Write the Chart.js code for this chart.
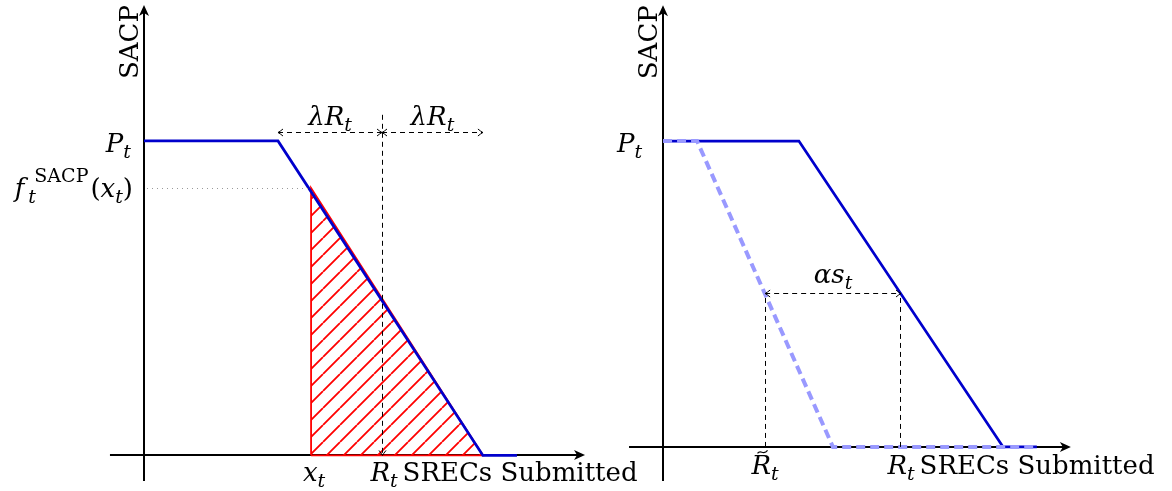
<!DOCTYPE html>
<html lang="en">
<head>
<meta charset="UTF-8">
<title>SACP schedule</title>
<script src="https://cdn.jsdelivr.net/npm/chart.js"></script>
<style>
  body { margin: 0; background: #fff; }
  canvas { position: absolute; top: 0; }
  #left { left: 0; }
  #right { left: 600px; }
</style>
</head>
<body>
<canvas id="left" width="650" height="491"></canvas>
<canvas id="right" width="572" height="491"></canvas>
<script>
// left panel: SACP schedule (P_t = 1, R_t = 1) and the hatched area from x_t
const curveX = [0, 0.563, 1.424, 1.567];
const curveY = [1, 1, 0, 0];
const hatchX = [0.702, 0.702, 1.424, 0.702];
const hatchY = [0, 0.85, 0, 0];
const xt = 0.702, fxt = 0.85, rt = 1;
const lambdaLo = 0.563, lambdaHi = 1.424, lambdaArrowY = 1.026, rtLineTop = 1.083;

// right panel: schedule and the one shifted left by alpha*s_t
const rCurveX = [0, 0.571, 1.429, 1.571];
const rCurveY = [1, 1, 0, 0];
const shiftX = [0, 0.143, 0.714, 1.571];
const shiftY = [1, 1, 0, 0];
const rTilde = 0.429, crossY = 0.5;

const BLUE = '#0000cc', LIGHT = '#9999ff', RED = '#ff0000';
const SERIF = '"DejaVu Serif", "Liberation Serif", serif';
const MAIN = 26, SMALL = 19;

function pts(xs, ys) { return xs.map((x, i) => ({ x, y: ys[i] })); }

function fontOf(kind) {
  const small = kind === 'sub' || kind === 'sup';
  const it = kind === 'i' || kind === 'sub' || kind === 'f';
  return (it ? 'italic ' : '') + (small ? SMALL : MAIN) + 'px ' + SERIF;
}

// parts: [text, kind] with kind 'i', 'r', 'f' (italic, wide overhang), 'sub' (italic) or 'sup' (roman, stacked on a sub)
function mathText(ctx, parts, x, y, align) {
  const items = parts.map(([t, k]) => {
    ctx.font = fontOf(k);
    const extra = k === 'f' ? 10 : 0;
    return { t, k, w: ctx.measureText(t).width + extra, dy: k === 'sub' ? 6 : k === 'sup' ? -15 : 0 };
  });
  let adv = 0;
  const xs = [];
  items.forEach((it, i) => {
    if (it.k === 'sup' && i > 0 && items[i - 1].k === 'sub') {
      xs.push(xs[i - 1]);
      adv = xs[i - 1] + Math.max(items[i - 1].w, it.w) + 2;
    } else {
      xs.push(adv);
      adv += it.w;
    }
  });
  const x0 = align === 'right' ? x - adv : align === 'center' ? x - adv / 2 : x;
  ctx.save();
  ctx.fillStyle = '#000';
  ctx.textAlign = 'left';
  ctx.textBaseline = 'alphabetic';
  items.forEach((it, i) => {
    ctx.font = fontOf(it.k);
    const sx = it.k === 'sub' && i > 0 && items[i - 1].k === 'f' ? -6 : 0;
    ctx.fillText(it.t, x0 + xs[i] + sx, y + it.dy);
  });
  ctx.restore();
  return { left: x0, right: x0 + adv };
}

// crisp thin lines: snap odd widths to half pixels
function snap(v, width) { return width % 2 === 1 ? Math.round(v - 0.5) + 0.5 : Math.round(v); }

function line(ctx, x1, y1, x2, y2, width, dash, color) {
  if (x1 === x2) { x1 = x2 = snap(x1, width); }
  if (y1 === y2) { y1 = y2 = snap(y1, width); }
  ctx.save();
  ctx.strokeStyle = color || '#000';
  ctx.lineWidth = width;
  ctx.setLineDash(dash || []);
  ctx.beginPath();
  ctx.moveTo(x1, y1);
  ctx.lineTo(x2, y2);
  ctx.stroke();
  ctx.restore();
}

// filled stealth head for the axes
function stealth(ctx, x, y, ang) {
  ctx.save();
  ctx.translate(x, y);
  ctx.rotate(ang);
  ctx.fillStyle = '#000';
  ctx.beginPath();
  ctx.moveTo(0, 0);
  ctx.lineTo(-11, -5);
  ctx.lineTo(-8, 0);
  ctx.lineTo(-11, 5);
  ctx.closePath();
  ctx.fill();
  ctx.restore();
}

// thin open head for the dashed dimension lines
function tip(ctx, x, y, ang) {
  ctx.save();
  ctx.translate(x, y);
  ctx.rotate(ang);
  ctx.strokeStyle = '#000';
  ctx.lineWidth = 1;
  ctx.beginPath();
  ctx.moveTo(-5, -3.5);
  ctx.quadraticCurveTo(-2, -1, 0, 0);
  ctx.quadraticCurveTo(-2, 1, -5, 3.5);
  ctx.stroke();
  ctx.restore();
}

function dimArrow(ctx, x1, x2, y) {
  const sy = snap(y, 1);
  line(ctx, x1, sy, x2, sy, 1, [5, 4]);
  tip(ctx, x1, sy, Math.PI);
  tip(ctx, x2, sy, 0);
}

function axes(c, xFrom, xTo, yFrom, yTo) {
  const ctx = c.ctx, X = v => c.scales.x.getPixelForValue(v), Y = v => c.scales.y.getPixelForValue(v);
  const ox = Math.round(X(0)), oy = Math.round(Y(0));
  line(ctx, X(xFrom), oy, X(xTo) - 6, oy, 2);
  line(ctx, ox, Y(yFrom), ox, Y(yTo) + 6, 2);
  stealth(ctx, X(xTo), oy, 0);
  stealth(ctx, ox, Y(yTo), -Math.PI / 2);
  ctx.save();
  ctx.font = MAIN + 'px ' + SERIF;
  ctx.fillStyle = '#000';
  ctx.textAlign = 'center';
  ctx.translate(ox - 6, Y(yTo) + 37);
  ctx.rotate(-Math.PI / 2);
  ctx.fillText('SACP', 0, 0);
  ctx.restore();
}

function xLabel(ctx, rx, y) {
  const r = mathText(ctx, [['R', 'i'], ['t', 'sub']], rx, y, 'center');
  ctx.save();
  ctx.font = MAIN + 'px ' + SERIF;
  ctx.fillStyle = '#000';
  ctx.fillText('SRECs Submitted', r.right + 5, y);
  ctx.restore();
}

function lineSet(xs, ys, color, width, dash) {
  return {
    data: pts(xs, ys), borderColor: color, borderWidth: width, borderDash: dash || [],
    pointRadius: 0, tension: 0, fill: false, clip: false, borderJoinStyle: 'miter'
  };
}

function panel(id, xr, yr, datasets, under, over) {
  return new Chart(document.getElementById(id), {
    type: 'line',
    data: { datasets },
    options: {
      responsive: false, animation: false, events: [],
      layout: { padding: 0 },
      plugins: { legend: { display: false }, tooltip: { enabled: false } },
      scales: {
        x: { type: 'linear', display: false, min: xr[0], max: xr[1] },
        y: { type: 'linear', display: false, min: yr[0], max: yr[1] }
      }
    },
    plugins: [{ id: 'sketch', beforeDatasetsDraw: under, afterDatasetsDraw: over }]
  });
}

// hatch pattern, north east lines
const TILE = 17;
const tile = document.createElement('canvas');
tile.width = tile.height = TILE;
const tg = tile.getContext('2d');
tg.strokeStyle = RED;
tg.lineWidth = 1.8;
tg.beginPath();
for (const o of [-TILE, 0, TILE]) { tg.moveTo(o, TILE); tg.lineTo(o + TILE, 0); }
tg.stroke();
const hatch = document.getElementById('left').getContext('2d').createPattern(tile, 'repeat');

// the filled area uses the open triangle; the outline closes it along the axis
const hatchFill = Object.assign(lineSet(hatchX.slice(0, 3), hatchY.slice(0, 3), 'rgba(0,0,0,0)', 0),
  { fill: 'origin', backgroundColor: hatch });
const hatchEdge = lineSet(hatchX, hatchY, RED, 1.8);

panel('left', [-0.605, 2.126], [-0.113, 1.448],
  [lineSet(curveX, curveY, BLUE, 2.8), hatchEdge, hatchFill],
  c => axes(c, -0.143, 1.853, -0.081, 1.432),
  c => {
    const ctx = c.ctx, X = v => c.scales.x.getPixelForValue(v), Y = v => c.scales.y.getPixelForValue(v);
    line(ctx, X(0) + 3, Y(fxt), X(xt), Y(fxt), 1, [1, 4], '#999');
    line(ctx, X(rt), Y(rtLineTop), X(rt), Y(0) - 1, 1, [5, 4]);
    tip(ctx, snap(X(rt), 1), Y(0), Math.PI / 2);
    dimArrow(ctx, X(lambdaLo), X(rt), Y(lambdaArrowY));
    dimArrow(ctx, X(rt), X(lambdaHi), Y(lambdaArrowY));
    mathText(ctx, [['λ', 'i'], ['R', 'i'], ['t', 'sub']], X((lambdaLo + rt) / 2), Y(lambdaArrowY) - 8, 'center');
    mathText(ctx, [['λ', 'i'], ['R', 'i'], ['t', 'sub']], X((rt + lambdaHi) / 2), Y(lambdaArrowY) - 8, 'center');
    mathText(ctx, [['P', 'i'], ['t', 'sub']], X(0) - 13, Y(1) + 11, 'right');
    mathText(ctx, [['f', 'f'], ['t', 'sub'], ['SACP', 'sup'], ['(', 'r'], ['x', 'i'], ['t', 'sub'], [')', 'r']],
      X(0) - 11, Y(fxt) + 9, 'right');
    mathText(ctx, [['x', 'i'], ['t', 'sub']], X(xt) + 3, Y(0) + 26, 'center');
    xLabel(ctx, X(rt) + 2, Y(0) + 26);
  });

panel('right', [-0.265, 2.139], [-0.144, 1.461],
  [lineSet(shiftX, shiftY, LIGHT, 4, [9, 5]), lineSet(rCurveX, rCurveY, BLUE, 2.8)],
  c => axes(c, -0.143, 1.714, -0.111, 1.444),
  c => {
    const ctx = c.ctx, X = v => c.scales.x.getPixelForValue(v), Y = v => c.scales.y.getPixelForValue(v);
    line(ctx, X(rTilde), Y(0), X(rTilde), Y(crossY), 1, [5, 4]);
    line(ctx, X(rt), Y(0), X(rt), Y(crossY), 1, [5, 4]);
    dimArrow(ctx, X(rTilde), X(rt), Y(crossY));
    mathText(ctx, [['α', 'i'], ['s', 'i'], ['t', 'sub']], X((rTilde + rt) / 2), Y(crossY) - 11, 'center');
    mathText(ctx, [['P', 'i'], ['t', 'sub']], X(0) - 21, Y(1) + 11, 'right');
    const rl = mathText(ctx, [['R', 'i'], ['t', 'sub']], X(rTilde), Y(0) + 27, 'center');
    // tilde over R
    ctx.save();
    ctx.strokeStyle = '#000';
    ctx.lineWidth = 1.2;
    const tx = rl.left + 11, ty = Y(0) + 5;
    ctx.beginPath();
    ctx.moveTo(tx - 5, ty + 1.5);
    ctx.bezierCurveTo(tx - 2, ty - 3, tx + 1, ty + 4, tx + 5, ty - 1.5);
    ctx.stroke();
    ctx.restore();
    xLabel(ctx, X(rt), Y(0) + 27);
  });
</script>
</body>
</html>
